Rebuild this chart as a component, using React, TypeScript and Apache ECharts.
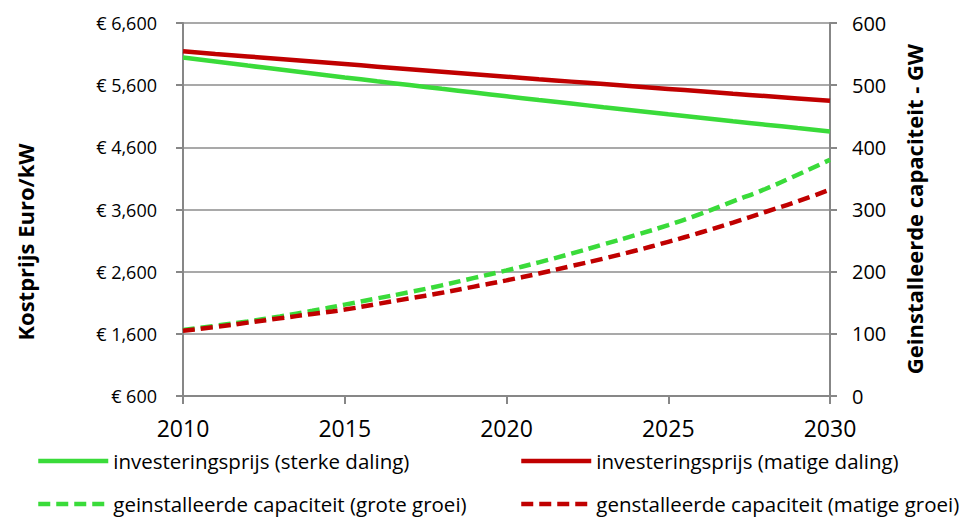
import React, { useEffect, useRef } from 'react';
import * as echarts from 'echarts';

const years = [2010, 2011, 2012, 2013, 2014, 2015, 2016, 2017, 2018, 2019, 2020, 2021, 2022, 2023, 2024, 2025, 2026, 2027, 2028, 2029, 2030];
const priceStrong = [6045, 5980, 5915, 5851, 5788, 5725, 5663, 5602, 5541, 5481, 5421, 5362, 5304, 5246, 5189, 5132, 5076, 5020, 4965, 4910, 4856];
const priceModerate = [6145, 6103, 6062, 6021, 5980, 5939, 5898, 5857, 5816, 5776, 5736, 5696, 5657, 5618, 5579, 5540, 5501, 5462, 5424, 5386, 5348];
const capacityHigh = [106, 113, 120, 128, 137, 147, 157, 167, 178, 190, 202, 215, 229, 244, 259, 275, 293, 313, 333, 356, 380];
const capacityModerate = [105, 111, 118, 125, 132, 139, 148, 157, 166, 176, 186, 197, 209, 221, 234, 248, 263, 279, 296, 313, 332];
const priceTicks = [600, 1600, 2600, 3600, 4600, 5600, 6600];
const names = [
  'investeringsprijs (sterke daling)',
  'investeringsprijs (matige daling)',
  'geinstalleerde capaciteit (grote groei)',
  'genstalleerde capaciteit (matige groei)',
];
const leftTitle = 'Kostprijs Euro/kW';
const rightTitle = 'Geinstalleerde capaciteit - GW';

const GREEN = '#3ADB3A';
const RED = '#C00000';
const FONT = 'Open Sans';
const DASH = [12, 6];

export default function App() {
  const ref = useRef<HTMLDivElement>(null);
  useEffect(() => {
    if (!ref.current) return;
    const chart = echarts.init(ref.current, null, { renderer: 'svg' });
    const pair = (arr: number[]) => years.map((y, i) => [y, arr[i]]);
    const legendText = { fontFamily: FONT, fontSize: 20.5, color: '#000', lineHeight: 22 };
    const legendPos = [
      { left: 31, top: 445 },
      { left: 514, top: 445 },
      { left: 31, top: 488 },
      { left: 514, top: 488 },
    ];
    const legendColors = [GREEN, RED, GREEN, RED];
    chart.setOption({
      animation: false,
      backgroundColor: '#fff',
      textStyle: { fontFamily: FONT },
      grid: { left: 183, right: 142, top: 23, bottom: 124, containLabel: false },
      legend: names.map((n, i) => ({
        left: legendPos[i].left,
        top: legendPos[i].top,
        orient: 'horizontal',
        padding: 5,
        itemWidth: 70,
        itemHeight: 14,
        data: [n],
        textStyle: legendText,
        itemStyle: { opacity: 0 },
        lineStyle: { color: legendColors[i], width: 4.5, type: i >= 2 ? DASH : 'solid' },
      })),
      xAxis: {
        type: 'value', min: 2010, max: 2030, interval: 5,
        axisLine: { show: true, lineStyle: { color: '#878787', width: 2 } },
        axisTick: { show: true, length: 8, lineStyle: { color: '#878787', width: 2 } },
        axisLabel: { fontFamily: FONT, fontSize: 23, color: '#000', margin: 20, formatter: (v: number) => String(v) },
        splitLine: { show: false },
      },
      yAxis: [
        {
          type: 'value', min: 600, max: 6600, position: 'left',
          axisLine: { show: true, lineStyle: { color: '#878787', width: 2 } },
          axisTick: { show: true, length: 7, customValues: priceTicks, lineStyle: { color: '#878787', width: 2 } },
          axisLabel: {
            customValues: priceTicks, fontFamily: FONT, fontSize: 18, color: '#000', margin: 26,
            formatter: (v: number) => '€ ' + v.toLocaleString('en-US'),
          },
          splitLine: { show: false },
        },
        {
          type: 'value', min: 0, max: 600, interval: 100, position: 'right',
          axisLine: { show: true, lineStyle: { color: '#878787', width: 2 } },
          axisTick: { show: true, length: 7, lineStyle: { color: '#878787', width: 2 } },
          axisLabel: { fontFamily: FONT, fontSize: 20, color: '#000', margin: 22 },
          splitLine: { show: true, lineStyle: { color: '#8c8c8c', width: 1.5 } },
        },
      ],
      graphic: [
        {
          type: 'text', x: 25, y: 242, rotation: Math.PI / 2,
          style: { text: leftTitle, fontFamily: FONT, fontSize: 22, fontWeight: 'bold', fill: '#000', align: 'center', verticalAlign: 'middle' },
        },
        {
          type: 'text', x: 914, y: 209, rotation: Math.PI / 2,
          style: { text: rightTitle, fontFamily: FONT, fontSize: 22, fontWeight: 'bold', fill: '#000', align: 'center', verticalAlign: 'middle' },
        },
      ],
      series: [
        {
          name: names[0], type: 'line', yAxisIndex: 0, data: pair(priceStrong), symbol: 'none', smooth: true,
          lineStyle: { color: GREEN, width: 4.5 }, itemStyle: { color: GREEN }, z: 3,
        },
        {
          name: names[1], type: 'line', yAxisIndex: 0, data: pair(priceModerate), symbol: 'none', smooth: true,
          lineStyle: { color: RED, width: 4.5 }, itemStyle: { color: RED }, z: 3,
        },
        {
          name: names[2], type: 'line', yAxisIndex: 1, data: pair(capacityHigh), symbol: 'none', smooth: true,
          lineStyle: { color: GREEN, width: 4.5, type: DASH }, itemStyle: { color: GREEN }, z: 3,
        },
        {
          name: names[3], type: 'line', yAxisIndex: 1, data: pair(capacityModerate), symbol: 'none', smooth: true,
          lineStyle: { color: RED, width: 4.5, type: DASH }, itemStyle: { color: RED }, z: 4,
        },
      ],
    });
    return () => chart.dispose();
  }, []);
  return <div ref={ref} style={{ position: 'absolute', left: 0, top: 0, width: 972, height: 520 }} />;
}
